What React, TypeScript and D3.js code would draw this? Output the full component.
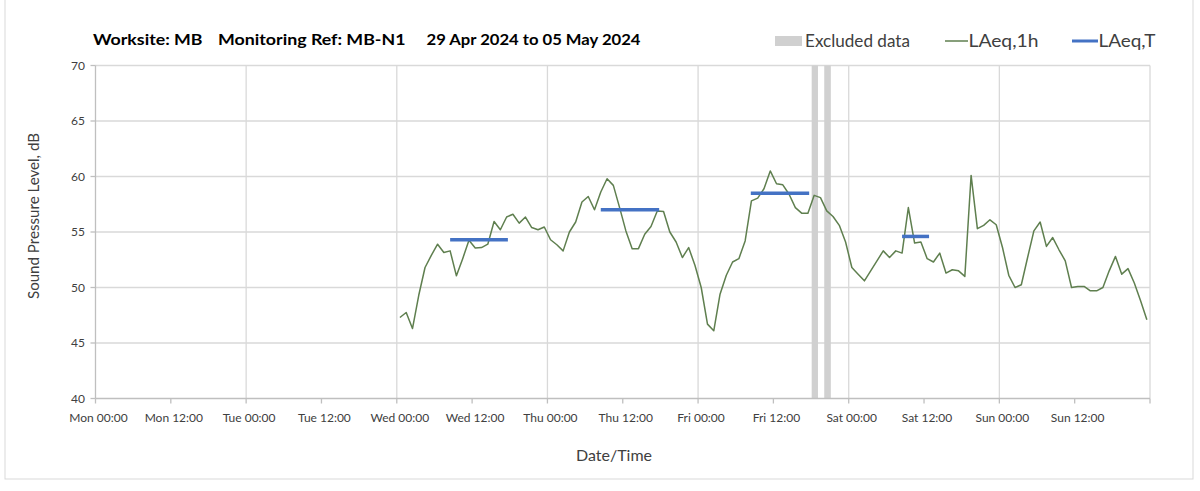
import React from 'react';
import * as d3 from 'd3';

// ---- data ----
const xTickHours = [0, 12, 24, 36, 48, 60, 72, 84, 96, 108, 120, 132, 144, 156, 168];
const xTickLabels = [
  'Mon 00:00', 'Mon 12:00', 'Tue 00:00', 'Tue 12:00', 'Wed 00:00', 'Wed 12:00', 'Thu 00:00',
  'Thu 12:00', 'Fri 00:00', 'Fri 12:00', 'Sat 00:00', 'Sat 12:00', 'Sun 00:00', 'Sun 12:00', '',
];
const yTicks = [40, 45, 50, 55, 60, 65, 70];
const dayGridHours = [24, 48, 72, 96, 120, 144, 168];

// hourly LAeq,1h starting Wed 00:00 (hour 48 from Mon 00:00)
const laeqStartHour = 48;
const laeq1h = [
  47.3, 47.75, 46.3, 49.3, 51.8, 52.9, 53.9, 53.15, 53.3, 51.05, 52.6, 54.25,
  53.55, 53.6, 53.9, 55.95, 55.2, 56.35, 56.6, 55.8, 56.35, 55.4, 55.2, 55.45,
  54.3, 53.85, 53.3, 55.0, 55.9, 57.7, 58.2, 57.0, 58.6, 59.8, 59.2, 57.2,
  55.1, 53.5, 53.5, 54.8, 55.5, 56.9, 56.85, 55.0, 54.1, 52.7, 53.6, 52.0,
  50.0, 46.7, 46.1, 49.4, 51.1, 52.3, 52.6, 54.2, 57.8, 58.05, 58.9, 60.5,
  59.35, 59.25, 58.4, 57.2, 56.7, 56.7, 58.3, 58.1, 56.9, 56.4, 55.6, 54.1,
  51.8, 51.2, 50.6, 51.5, 52.4, 53.3, 52.7, 53.3, 53.1, 57.2, 54.0, 54.1,
  52.6, 52.3, 53.1, 51.3, 51.6, 51.5, 51.0, 60.1, 55.3, 55.6, 56.1, 55.65,
  53.6, 51.1, 50.0, 50.25, 52.7, 55.1, 55.9, 53.7, 54.5, 53.4, 52.4, 50.0,
  50.1, 50.1, 49.7, 49.7, 50.0, 51.5, 52.8, 51.2, 51.7, 50.4, 48.8, 47.1,
];

// LAeq,T periods (hours from Mon 00:00)
const laeqTStart = [56.5, 80.5, 104.4, 128.5];
const laeqTEnd = [65.7, 89.8, 113.7, 132.8];
const laeqTValue = [54.3, 57.0, 58.5, 54.6];

// excluded data periods (hours from Mon 00:00)
const excludedStart = [114.1, 116.1];
const excludedEnd = [115.1, 117.15];

const FONT = 'Lato, "Open Sans", sans-serif';

export default function App() {
  const x = d3.scaleLinear().domain([0, 168]).range([95.5, 1150]);
  const y = d3.scaleLinear().domain([40, 70]).range([398.5, 65.5]);

  const pts: [number, number][] = laeq1h.map((v, i) => [laeqStartHour + i + 0.5, v]);
  const line = d3
    .line<[number, number]>()
    .x((d) => x(d[0]))
    .y((d) => y(d[1]));

  const grid = '#d9d9d9';
  const axisCol = '#bfbfbf';
  const textCol = '#404040';

  return (
    <div style={{ position: 'absolute', left: 0, top: 0 }}>
      <svg width={1200} height={491} style={{ display: 'block', background: '#fff' }}>
        <rect x={5} y={-2} width={1188} height={481} fill="none" stroke="#d9d9d9" strokeWidth={1} />

        {/* title */}
        <g fontFamily={FONT} fontWeight="bold" fontSize={15.5} fill="#000">
          <text x={93} y={44.5} textLength={109.5} lengthAdjust="spacingAndGlyphs">Worksite: MB</text>
          <text x={218} y={44.5} textLength={187.5} lengthAdjust="spacingAndGlyphs">Monitoring Ref: MB-N1</text>
          <text x={426.5} y={44.5} textLength={214} lengthAdjust="spacingAndGlyphs">29 Apr 2024 to 05 May 2024</text>
        </g>

        {/* legend */}
        <g fontFamily={FONT} fontSize={16.5} fill={textCol}>
          <rect x={775} y={36} width={27} height={10} fill="#d0d0d0" />
          <text x={805} y={46.5} textLength={105} lengthAdjust="spacingAndGlyphs">Excluded data</text>
          <line x1={945} x2={968} y1={41} y2={41} stroke="#5f7f4f" strokeWidth={1.5} />
          <text x={968.5} y={46.5} textLength={70} lengthAdjust="spacingAndGlyphs">LAeq,1h</text>
          <line x1={1072} x2={1098} y1={41} y2={41} stroke="#4472c4" strokeWidth={3} />
          <text x={1098.5} y={46.5} textLength={57} lengthAdjust="spacingAndGlyphs">LAeq,T</text>
        </g>

        {/* gridlines */}
        <g stroke={grid} strokeWidth={1.3}>
          {yTicks.filter((t) => t > 40).map((t) => (
            <line key={'gy' + t} x1={x(0)} x2={x(168)} y1={y(t)} y2={y(t)} />
          ))}
          {dayGridHours.map((h) => (
            <line key={'gx' + h} x1={x(h)} x2={x(h)} y1={y(70)} y2={y(40)} />
          ))}
        </g>

        {/* excluded data */}
        {excludedStart.map((s, i) => (
          <rect
            key={'ex' + i}
            x={x(s)}
            width={x(excludedEnd[i]) - x(s)}
            y={y(70)}
            height={y(40) - y(70)}
            fill="#d0d0d0"
          />
        ))}

        {/* axes */}
        <g stroke={axisCol} strokeWidth={1.3}>
          <line x1={x(0)} x2={x(0)} y1={y(70)} y2={y(40)} />
          <line x1={x(0)} x2={x(168)} y1={y(40)} y2={y(40)} />
          {yTicks.map((t) => (
            <line key={'ty' + t} x1={x(0) - 5} x2={x(0)} y1={y(t)} y2={y(t)} />
          ))}
          {xTickHours.map((h) => (
            <line key={'tx' + h} x1={x(h)} x2={x(h)} y1={y(40)} y2={y(40) + 5} />
          ))}
        </g>

        {/* tick labels */}
        <g fontFamily={FONT} fontSize={12} fill={textCol}>
          {yTicks.map((t) => (
            <text key={'ly' + t} x={85} y={y(t) + 4} textAnchor="end">{t}</text>
          ))}
          {xTickHours.map((h, i) => (
            <text key={'lx' + h} x={x(h) + 3} y={422} textAnchor="middle">{xTickLabels[i]}</text>
          ))}
        </g>

        {/* axis titles */}
        <text
          fontFamily={FONT}
          fontSize={16}
          fill={textCol}
          textAnchor="middle"
          textLength={166}
          lengthAdjust="spacingAndGlyphs"
          transform={`translate(39,216) rotate(-90)`}
        >
          Sound Pressure Level, dB
        </text>
        <text fontFamily={FONT} fontSize={16} fill={textCol} x={614} y={461} textAnchor="middle">
          Date/Time
        </text>

        {/* LAeq,1h */}
        <path d={line(pts) || ''} fill="none" stroke="#5f7f4f" strokeWidth={1.5} strokeLinejoin="round" />

        {/* LAeq,T */}
        {laeqTStart.map((s, i) => (
          <line
            key={'lt' + i}
            x1={x(s)}
            x2={x(laeqTEnd[i])}
            y1={y(laeqTValue[i])}
            y2={y(laeqTValue[i])}
            stroke="#4472c4"
            strokeWidth={3.5}
          />
        ))}
      </svg>
    </div>
  );
}
